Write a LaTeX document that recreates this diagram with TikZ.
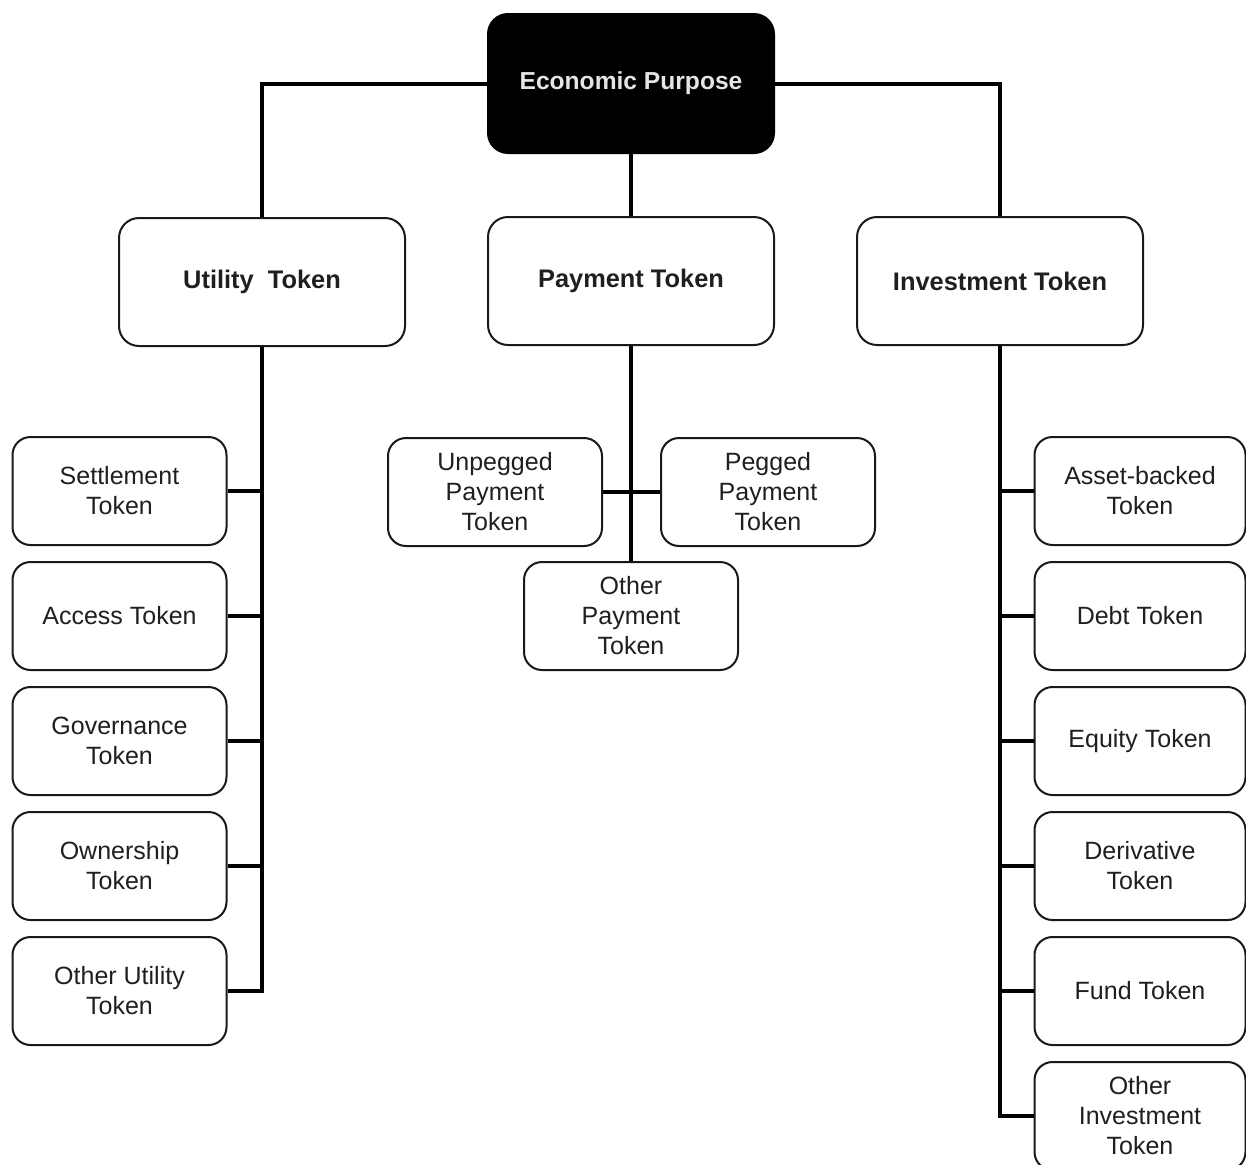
\documentclass[tikz,border=0pt]{standalone}
\usepackage{fontspec}
\setmainfont{Liberation Sans}
\begin{document}
\begin{tikzpicture}[x=0.5pt,y=-0.5pt,
  txt/.style={font=\fontsize{12.5}{15}\selectfont, text=black!88, align=center},
  rootbox/.style={draw=black, fill=black, line width=1pt, rounded corners=10pt,
    minimum width=143pt, minimum height=69.5pt, text=white!90!black,
    font=\fontsize{12.3}{15}\selectfont\bfseries},
  catbox/.style={txt, draw=black!90, fill=white, line width=1pt, rounded corners=10pt,
    minimum width=143pt, minimum height=64pt, font=\fontsize{12.7}{15}\selectfont\bfseries},
  leafbox/.style={txt, draw=black!90, fill=white, line width=1pt, rounded corners=9pt,
    minimum width=107pt, minimum height=54pt},
  rleaf/.style={leafbox, minimum width=105.5pt},
  conn/.style={draw=black, line width=2pt}]
\useasboundingbox (0,0) rectangle (1246,1164);
\clip (0,0) rectangle (1246,1164);
\fill[white] (0,0) rectangle (1246,1164);

% root and the three token categories
\node[rootbox] (econ) at (631,83.5) {Economic Purpose};
\node[catbox] (util) at (262,282) {Utility~~Token};
\node[catbox] (pay)  at (631,281) {Payment Token};
\node[catbox] (inv)  at (1000,281) {Investment Token};

% utility tokens
\node[leafbox] (u1) at (119.5,491) {Settlement\\Token};
\node[leafbox] (u2) at (119.5,616) {Access Token};
\node[leafbox] (u3) at (119.5,741) {Governance\\Token};
\node[leafbox] (u4) at (119.5,866) {Ownership\\Token};
\node[leafbox] (u5) at (119.5,991) {Other Utility\\Token};

% payment tokens
\node[leafbox] (p1) at (495,492) {Unpegged\\Payment\\Token};
\node[leafbox] (p2) at (768,492) {Pegged\\Payment\\Token};
\node[leafbox] (p3) at (631,616) {Other\\Payment\\Token};

% investment tokens
\node[rleaf] (i1) at (1140,491) {Asset-backed\\Token};
\node[rleaf] (i2) at (1140,616) {Debt Token};
\node[rleaf] (i3) at (1140,741) {Equity Token};
\node[rleaf] (i4) at (1140,866) {Derivative\\Token};
\node[rleaf] (i5) at (1140,991) {Fund Token};
\node[rleaf] (i6) at (1140,1116) {Other\\Investment\\Token};

% connectors from the root
\draw[conn] (econ.west) -| (util.north);
\draw[conn] (econ.east) -| (inv.north);
\draw[conn] (econ.south) -- (pay.north);

% utility branch
\draw[conn] (util.south) |- (u5.east);
\foreach \n in {u1,u2,u3,u4}
  \draw[conn] (\n.east) -- (\n.east -| util.south);

% payment branch
\draw[conn] (pay.south) -- (p3.north);
\draw[conn] (p1.east) -- (p2.west);

% investment branch
\draw[conn] (inv.south) |- (i6.west);
\foreach \n in {i1,i2,i3,i4,i5}
  \draw[conn] (\n.west) -- (\n.west -| inv.south);
\end{tikzpicture}
\end{document}
